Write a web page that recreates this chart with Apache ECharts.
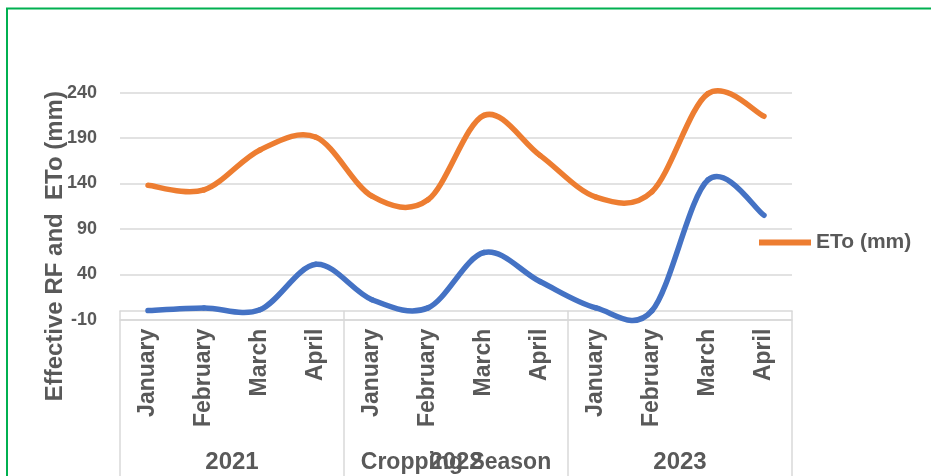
<!DOCTYPE html>
<html>
<head>
<meta charset="utf-8">
<script src="https://cdn.jsdelivr.net/npm/echarts@6/dist/echarts.min.js"></script>
<style>
  html, body { margin: 0; padding: 0; background: #fff; }
  #chart { width: 931px; height: 476px; }
</style>
</head>
<body>
<div id="chart"></div>
<script>
const months = ["January", "February", "March", "April", "January", "February", "March", "April", "January", "February", "March", "April"];
const seasons = ["2021", "2022", "2023"];
const effectiveRf = [0, 3, 1, 51, 12, 3, 64, 32, 3, 0, 144, 105];
const eto = [138, 133, 177, 191, 126, 122, 215, 171, 125, 131, 239, 214];

const textColor = "#595959";
const gridColor = "#D9D9D9";
const font = "Liberation Sans, Arial, sans-serif";

const chart = echarts.init(document.getElementById("chart"));

// Excel-style smoothed line: each item draws the curve to the next point (Catmull-Rom)
function smoothSeries(name, values, color) {
  return {
    name,
    type: "custom",
    data: values.map((v, i) => [i, v]),
    encode: { x: 0, y: 1 },
    itemStyle: { color },
    renderItem: (params, api) => {
      const i = params.dataIndex;
      if (i >= values.length - 1) return null;
      const pt = (k) => {
        const j = Math.max(0, Math.min(values.length - 1, k));
        return api.coord([j, values[j]]);
      };
      const p0 = pt(i - 1), p1 = pt(i), p2 = pt(i + 1), p3 = pt(i + 2);
      return {
        type: "bezierCurve",
        shape: {
          x1: p1[0], y1: p1[1],
          x2: p2[0], y2: p2[1],
          cpx1: p1[0] + (p2[0] - p0[0]) / 6, cpy1: p1[1] + (p2[1] - p0[1]) / 6,
          cpx2: p2[0] - (p3[0] - p1[0]) / 6, cpy2: p2[1] - (p3[1] - p1[1]) / 6,
        },
        style: { fill: "none", stroke: color, lineWidth: 5.5, lineCap: "round" },
      };
    },
  };
}

chart.setOption({
  animation: false,
  textStyle: { fontFamily: font },
  graphic: [
    {
      type: "rect",
      shape: { x: 7, y: 8.5, width: 1000, height: 1000 },
      style: { fill: "none", stroke: "#00B050", lineWidth: 2 },
      z: 10,
    },
  ],
  grid: { left: 120, right: 139, top: 92.7, bottom: 156.3, outerBoundsMode: "none", containLabel: false },
  legend: {
    data: ["ETo (mm)"],
    left: 759,
    top: 232,
    padding: 0,
    icon: "rect",
    itemWidth: 52,
    itemHeight: 6,
    itemGap: 8,
    textStyle: { fontSize: 21, fontWeight: "bold", color: textColor, fontFamily: font },
  },
  xAxis: [
    {
      type: "category",
      data: months,
      position: "bottom",
      axisLine: { onZero: false, lineStyle: { color: gridColor, width: 1.5 } },
      axisTick: { show: false },
      axisLabel: {
        interval: 0,
        rotate: 90,
        margin: 9,
        fontSize: 23,
        fontWeight: "bold",
        color: textColor,
        fontFamily: font,
      },
    },
    {
      type: "category",
      data: seasons,
      position: "bottom",
      offset: -9,
      name: "Cropping Season",
      nameLocation: "middle",
      nameGap: 140,
      nameMoveOverlap: false,
      nameTextStyle: { fontSize: 23, fontWeight: "bold", color: textColor, fontFamily: font },
      axisLine: { onZero: false, lineStyle: { color: gridColor, width: 1.5 } },
      axisTick: { show: true, interval: 0, length: 180, lineStyle: { color: gridColor, width: 1.5 } },
      axisLabel: {
        interval: 0,
        margin: 140,
        fontSize: 24,
        fontWeight: "bold",
        color: textColor,
        fontFamily: font,
      },
    },
  ],
  yAxis: {
    type: "value",
    min: -10,
    max: 240,
    interval: 50,
    name: "Effective RF and  ETo (mm)",
    nameLocation: "middle",
    nameGap: 53,
    nameMoveOverlap: false,
    nameTextStyle: {
      fontSize: 24,
      fontWeight: "bold",
      color: textColor,
      fontFamily: font,
      padding: [0, 80, 0, 0],
    },
    axisLine: { show: false },
    axisTick: { show: false },
    splitLine: { lineStyle: { color: gridColor, width: 1.5 } },
    axisLabel: { margin: 23, fontSize: 18, fontWeight: "bold", color: textColor, fontFamily: font },
  },
  series: [
    smoothSeries("Effective RF (mm)", effectiveRf, "#4472C4"),
    smoothSeries("ETo (mm)", eto, "#ED7D31"),
  ],
});
</script>
</body>
</html>
